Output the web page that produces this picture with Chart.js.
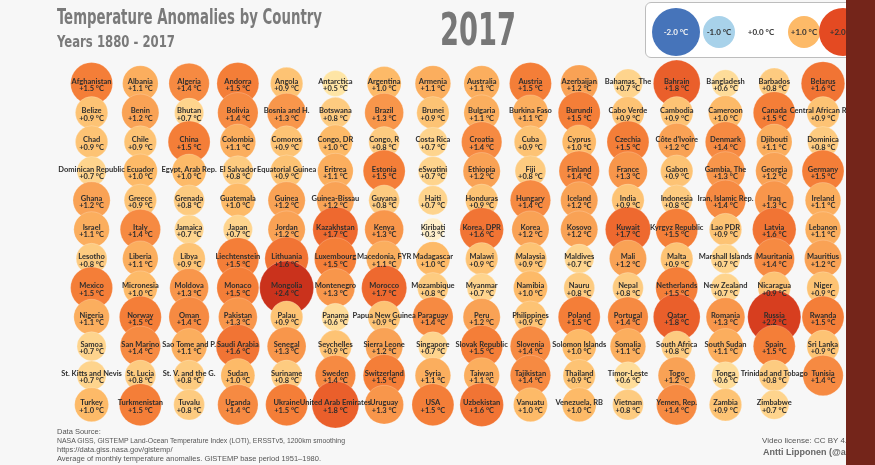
<!DOCTYPE html>
<html><head><meta charset="utf-8">
<script src="https://cdn.jsdelivr.net/npm/chart.js@4.4.0/dist/chart.umd.min.js"></script>
<style>
html,body{margin:0;padding:0;background:#f7f7f7;width:875px;height:465px;overflow:hidden;}
#wrap{position:relative;width:875px;height:465px;overflow:hidden;}
#c{position:absolute;left:0;top:0;}
.t{position:absolute;white-space:nowrap;transform-origin:0 0;line-height:1;}
.head{font-family:"Liberation Sans Narrow","DejaVu Sans Condensed",sans-serif;font-weight:bold;color:#7a7a7a;}
.foot{font-family:"Liberation Sans",Arial,sans-serif;font-size:7.5px;color:#555;}
#legend{position:absolute;left:645px;top:2px;width:260px;height:54px;background:#fff;border:1px solid #bdbdbd;border-radius:6px;}
.lc{position:absolute;border-radius:50%;display:flex;align-items:center;justify-content:center;font-family:Lato,sans-serif;font-weight:bold;font-size:8px;color:#333;white-space:nowrap;}
#strip{position:absolute;left:846px;top:0;width:29px;height:465px;background:#74251a;}
</style></head><body>
<div id="wrap">
<canvas id="c" width="875" height="465"></canvas>
<div class="t head" style="left:57px;top:7px;font-size:21px;" data-w="265">Temperature Anomalies by Country</div>
<div class="t head" style="left:57px;top:35px;font-size:15px;" data-w="118">Years 1880 - 2017</div>
<div class="t head" style="left:440px;top:8px;font-size:44px;color:#777;" data-w="76">2017</div>
<div id="legend"></div>
<div class="t foot" style="left:57px;top:428px;">Data Source:</div>
<div class="t foot" style="left:57px;top:437px;" data-w="288">NASA GISS, GISTEMP Land-Ocean Temperature Index (LOTI), ERSSTv5, 1200km smoothing</div>
<div class="t foot" style="left:57px;top:446px;">https://data.giss.nasa.gov/gistemp/</div>
<div class="t foot" style="left:57px;top:455px;">Average of monthly temperature anomalies. GISTEMP base period 1951–1980.</div>
<div class="t foot" style="left:762px;top:437px;font-size:8px;">Video license: CC BY 4.0</div>
<div class="t foot" style="left:763px;top:448px;font-size:9px;font-weight:bold;color:#666;">Antti Lipponen (@anttilip)</div>
<div id="strip"></div>
</div>
<script>
const countries = [
"Afghanistan","Albania","Algeria","Andorra","Angola","Antarctica","Argentina","Armenia","Australia","Austria","Azerbaijan","Bahamas, The","Bahrain","Bangladesh","Barbados","Belarus",
"Belize","Benin","Bhutan","Bolivia","Bosnia and H.","Botswana","Brazil","Brunei","Bulgaria","Burkina Faso","Burundi","Cabo Verde","Cambodia","Cameroon","Canada","Central African Rep.",
"Chad","Chile","China","Colombia","Comoros","Congo, DR","Congo, R","Costa Rica","Croatia","Cuba","Cyprus","Czechia","Côte d'Ivoire","Denmark","Djibouti","Dominica",
"Dominican Republic","Ecuador","Egypt, Arab Rep.","El Salvador","Equatorial Guinea","Eritrea","Estonia","eSwatini","Ethiopia","Fiji","Finland","France","Gabon","Gambia, The","Georgia","Germany",
"Ghana","Greece","Grenada","Guatemala","Guinea","Guinea-Bissau","Guyana","Haiti","Honduras","Hungary","Iceland","India","Indonesia","Iran, Islamic Rep.","Iraq","Ireland",
"Israel","Italy","Jamaica","Japan","Jordan","Kazakhstan","Kenya","Kiribati","Korea, DPR","Korea","Kosovo","Kuwait","Kyrgyz Republic","Lao PDR","Latvia","Lebanon",
"Lesotho","Liberia","Libya","Liechtenstein","Lithuania","Luxembourg","Macedonia, FYR","Madagascar","Malawi","Malaysia","Maldives","Mali","Malta","Marshall Islands","Mauritania","Mauritius",
"Mexico","Micronesia","Moldova","Monaco","Mongolia","Montenegro","Morocco","Mozambique","Myanmar","Namibia","Nauru","Nepal","Netherlands","New Zealand","Nicaragua","Niger",
"Nigeria","Norway","Oman","Pakistan","Palau","Panama","Papua New Guinea","Paraguay","Peru","Philippines","Poland","Portugal","Qatar","Romania","Russia","Rwanda",
"Samoa","San Marino","Sao Tome and P.","Saudi Arabia","Senegal","Seychelles","Sierra Leone","Singapore","Slovak Republic","Slovenia","Solomon Islands","Somalia","South Africa","South Sudan","Spain","Sri Lanka",
"St. Kitts and Nevis","St. Lucia","St. V. and the G.","Sudan","Suriname","Sweden","Switzerland","Syria","Taiwan","Tajikistan","Thailand","Timor-Leste","Togo","Tonga","Trinidad and Tobago","Tunisia",
"Turkey","Turkmenistan","Tuvalu","Uganda","Ukraine","United Arab Emirates","Uruguay","USA","Uzbekistan","Vanuatu","Venezuela, RB","Vietnam","Yemen, Rep.","Zambia","Zimbabwe"
];
const anomalies = [
1.5,1.1,1.4,1.5,0.9,0.5,1.0,1.1,1.1,1.5,1.2,0.7,1.8,0.6,0.8,1.6,
0.9,1.2,0.7,1.4,1.3,0.8,1.3,0.9,1.1,1.1,1.5,0.9,0.9,1.0,1.5,0.9,
0.9,0.9,1.5,1.1,0.9,1.0,0.8,0.7,1.4,0.9,1.0,1.5,1.2,1.4,1.1,0.8,
0.7,1.0,1.0,0.8,0.9,1.1,1.5,0.7,1.2,0.8,1.4,1.3,0.9,1.3,1.2,1.5,
1.2,0.9,0.8,1.0,1.2,1.2,0.8,0.7,0.9,1.4,1.2,0.9,0.8,1.4,1.3,1.1,
1.1,1.4,0.7,0.7,1.2,1.7,1.3,0.3,1.6,1.2,1.2,1.7,1.5,0.9,1.6,1.1,
0.8,1.1,0.9,1.5,1.6,1.5,1.1,1.0,0.9,0.9,0.7,1.2,0.9,0.7,1.4,1.2,
1.5,1.0,1.3,1.5,2.4,1.3,1.7,0.8,0.7,1.0,0.8,0.8,1.5,0.7,0.9,0.9,
1.1,1.5,1.4,1.3,0.9,0.6,0.9,1.4,1.2,0.9,1.5,1.4,1.8,1.3,2.2,1.5,
0.7,1.4,1.1,1.6,1.3,0.9,1.2,0.7,1.5,1.4,1.0,1.1,0.8,1.1,1.5,0.9,
0.7,0.8,0.8,1.0,0.8,1.4,1.5,1.1,1.1,1.4,0.9,0.6,1.2,0.6,0.8,1.4,
1.0,1.5,0.8,1.4,1.5,1.8,1.3,1.5,1.6,1.0,1.0,0.8,1.4,0.9,0.7
];
const legendValues = [-2.0,-1.0,0.0,1.0,2.0];
const gridColumns = 16;

const colorStops = [[-2,[70,116,186]],[-1,[168,210,234]],[0,[255,255,255]],[0.5,[254,229,165]],[1,[253,186,104]],[1.5,[244,126,56]],[2,[228,74,34]],[2.5,[196,44,26]]];
function colorFor(v){
  if(v<=colorStops[0][0]) return 'rgb('+colorStops[0][1].join(',')+')';
  for(let i=1;i<colorStops.length;i++){
    if(v<=colorStops[i][0]){
      const [a,ca]=colorStops[i-1],[b,cb]=colorStops[i];const t=(v-a)/(b-a);
      return 'rgb('+ca.map((c,k)=>Math.round(c+(cb[k]-c)*t)).join(',')+')';
    }
  }
  return 'rgb('+colorStops[colorStops.length-1][1].join(',')+')';
}
function radiusFor(v){return Math.min(9+8*Math.abs(v),27);}
function fmt(v){return (v>=0?'+':'')+v.toFixed(1)+' °C';}

const labelPlugin={id:'cellLabels',afterDatasetsDraw(chart){
  const ctx=chart.ctx;const meta=chart.getDatasetMeta(0);
  ctx.save();ctx.textAlign='center';ctx.textBaseline='middle';ctx.fillStyle='#2e2e2e';
  meta.data.forEach((el,i)=>{
    ctx.font='bold 7.5px Lato, sans-serif';
    ctx.fillText(countries[i],el.x,el.y-2);
    ctx.fillText(fmt(anomalies[i]),el.x,el.y+5.5);
  });
  ctx.restore();
}};

new Chart(document.getElementById('c'),{
  type:'bubble',
  data:{datasets:[{
    data:anomalies.map((v,i)=>({x:i%gridColumns,y:Math.floor(i/gridColumns)})),
    radius:ctx=>radiusFor(anomalies[ctx.dataIndex]),
    backgroundColor:ctx=>colorFor(anomalies[ctx.dataIndex]),
    borderColor:'rgba(255,255,255,0.35)',borderWidth:0.6,
    clip:false
  }]},
  plugins:[labelPlugin],
  options:{
    responsive:false,animation:false,devicePixelRatio:1,
    layout:{padding:{left:67.2,right:13.6,top:68.9,bottom:45.7}},
    plugins:{legend:{display:false},tooltip:{enabled:false}},
    events:[],
    scales:{
      x:{type:'linear',min:-0.5,max:gridColumns-0.5,display:false},
      y:{type:'linear',min:-0.5,max:11.5,reverse:true,display:false}
    }
  }
});

// legend swatches
const lg=document.getElementById('legend');
const lx=[30,73,115,158,197];
legendValues.forEach((v,i)=>{
  const r=radiusFor(v)-1;const d=document.createElement('div');d.className='lc';
  d.style.left=(lx[i]-r)+'px';d.style.top=(29-r)+'px';d.style.width=(2*r)+'px';d.style.height=(2*r)+'px';
  d.style.background=v===0?'transparent':colorFor(v);
  if(v<=-2) d.style.color='#f4f4f4';
  d.textContent=fmt(v);
  lg.appendChild(d);
});

document.querySelectorAll('[data-w]').forEach(el=>{
  const w=el.getBoundingClientRect().width;const tw=+el.dataset.w;
  if(w>0) el.style.transform='scaleX('+(tw/w)+')';
});
</script>
</body></html>
